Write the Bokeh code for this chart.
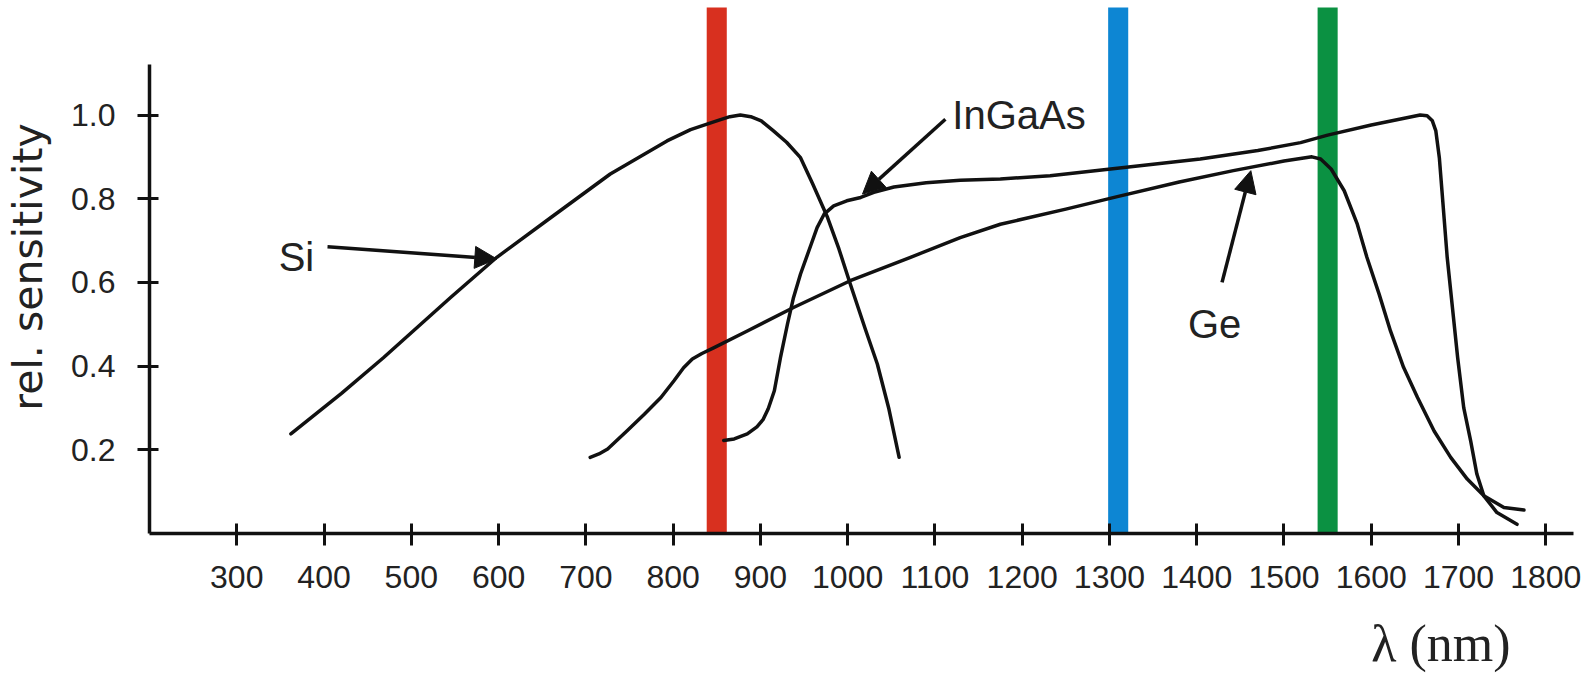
from bokeh.plotting import figure
from bokeh.models import (ColumnDataSource, FixedTicker, Arrow, NormalHead, Title, Range1d)
from bokeh.core.properties import value
from bokeh.embed import file_html
from bokeh.resources import INLINE

# ---- data ----
si_wl = [362, 420, 468, 545, 598, 660, 728, 793, 820, 850, 865, 877, 889, 901, 915, 930, 946, 960,
         977, 990, 1003, 1020, 1034, 1047, 1059]
si_val = [0.238, 0.335, 0.42, 0.564, 0.66, 0.755, 0.859, 0.938, 0.965, 0.986, 0.996, 1.0, 0.996, 0.986, 0.962,
          0.935, 0.898, 0.835, 0.755, 0.68, 0.596, 0.49, 0.405, 0.30, 0.182]

ingaas_wl = [858, 870, 885, 896, 903, 909, 916, 923, 931, 938, 946, 958, 965, 973, 984, 999, 1015, 1030, 1053,
             1090, 1129, 1175, 1232, 1309, 1404, 1470, 1519, 1550, 1600, 1656, 1664, 1670, 1674, 1678, 1681,
             1687, 1693, 1699, 1706, 1714, 1721, 1729, 1744, 1767]
ingaas_val = [0.222, 0.226, 0.238, 0.255, 0.272, 0.298, 0.341, 0.42, 0.50, 0.564, 0.62, 0.69, 0.731, 0.763,
              0.783, 0.795, 0.803, 0.815, 0.828, 0.838, 0.844, 0.847, 0.855, 0.873, 0.895, 0.915, 0.934, 0.952,
              0.976, 1.0, 0.998, 0.986, 0.962, 0.898, 0.819, 0.66, 0.54, 0.42, 0.30, 0.22, 0.142, 0.09,
              0.05, 0.022]

ge_wl = [705, 715, 725, 747, 767, 786, 801, 812, 822, 833, 847, 885, 938, 1003, 1072, 1129, 1175, 1250, 1309,
         1380, 1442, 1500, 1532, 1542, 1554, 1569, 1584, 1595, 1609, 1622, 1637, 1653, 1672, 1691, 1710,
         1729, 1752, 1775]
ge_val = [0.182, 0.19, 0.202, 0.245, 0.285, 0.325, 0.365, 0.396, 0.417, 0.430, 0.444, 0.484, 0.54, 0.604, 0.66,
          0.707, 0.739, 0.775, 0.805, 0.84, 0.867, 0.89, 0.90, 0.895, 0.871, 0.819, 0.739, 0.66, 0.572,
          0.484, 0.397, 0.325, 0.245, 0.182, 0.13, 0.09, 0.062, 0.056]

band_centers = [850, 1310, 1550]
band_colors = ["#d8301f", "#0d86d3", "#0b9142"]
band_width = 23
band_top = 1.257

x_ticks = [300, 400, 500, 600, 700, 800, 900, 1000, 1100, 1200, 1300, 1400, 1500, 1600, 1700, 1800]
y_ticks = [0.2, 0.4, 0.6, 0.8, 1.0]
y_tick_labels = ["0.2", "0.4", "0.6", "0.8", "1.0"]

curve_names = ["Si", "InGaAs", "Ge"]
name_x = [348, 1120, 1390]
name_y = [0.66, 1.0, 0.50]

arrow_tail_x = [404, 1112, 1429]
arrow_tail_y = [0.685, 0.99, 0.60]
arrow_tip_x = [598, 1017, 1462]
arrow_tip_y = [0.656, 0.811, 0.867]

# ---- figure ----
p = figure(width=1594, height=694, output_backend="svg", toolbar_location=None,
           x_range=Range1d(200, 1855.8), y_range=Range1d(0, 1.2736),
           min_border_left=149, min_border_bottom=161, min_border_top=0, min_border_right=0)
p.background_fill_color = "white"
p.border_fill_color = "white"
p.outline_line_color = None
p.grid.visible = False

# colored wavelength bands
bsrc = ColumnDataSource(dict(left=[c - band_width / 2 for c in band_centers],
                             right=[c + band_width / 2 for c in band_centers],
                             top=[band_top] * 3, bottom=[0] * 3, color=band_colors))
p.quad(left="left", right="right", top="top", bottom="bottom", color="color", source=bsrc, line_color=None)

# curves
for wl, val in [(si_wl, si_val), (ingaas_wl, ingaas_val), (ge_wl, ge_val)]:
    p.line(wl, val, line_color="#111111", line_width=3.5, line_join="round", line_cap="round")

# curve labels
tsrc = ColumnDataSource(dict(x=name_x, y=name_y, t=curve_names))
p.text(x="x", y="y", text="t", source=tsrc, text_font=value("Liberation Sans"),
       text_font_size="40px", text_color="#222222", text_align="left", text_baseline="alphabetic")

# arrows
for x0, y0, x1, y1 in zip(arrow_tail_x, arrow_tail_y, arrow_tip_x, arrow_tip_y):
    p.add_layout(Arrow(x_start=x0, y_start=y0, x_end=x1, y_end=y1, line_width=3.5, line_color="#111111",
                       end=NormalHead(size=22, fill_color="#111111", line_color="#111111", line_width=1)))

# axes
xa = p.xaxis[0]
xa.ticker = FixedTicker(ticks=x_ticks)
xa.bounds = (200, 1832)
xa.axis_line_width = 3.5
xa.axis_line_color = "#111111"
xa.major_tick_line_width = 3
xa.major_tick_line_color = "#111111"
xa.major_tick_in = 10
xa.major_tick_out = 12
xa.minor_tick_line_color = None
xa.major_label_text_font = "Liberation Sans"
xa.major_label_text_font_size = "32px"
xa.major_label_text_color = "#222222"
xa.major_label_standoff = 20

ya = p.yaxis[0]
ya.ticker = FixedTicker(ticks=y_ticks)
ya.major_label_overrides = {t: s for t, s in zip(y_ticks, y_tick_labels)}
ya.bounds = (0, 1.12)
ya.axis_line_width = 3.5
ya.axis_line_color = "#111111"
ya.major_tick_line_width = 3
ya.major_tick_line_color = "#111111"
ya.major_tick_in = 9
ya.major_tick_out = 12
ya.minor_tick_line_color = None
ya.major_label_text_font = "Liberation Sans"
ya.major_label_text_font_size = "32px"
ya.major_label_text_color = "#222222"
ya.major_label_standoff = 22
ya.axis_label = "rel. sensitivity"
ya.axis_label_text_font = "DejaVu Sans"
ya.axis_label_text_font_size = "41px"
ya.axis_label_text_font_style = "normal"
ya.axis_label_text_color = "#222222"
ya.axis_label_standoff = 16

xtitle = Title(text="λ (nm)", align="right", offset=84, standoff=44,
               text_font="Liberation Serif", text_font_size="52px", text_font_style="normal",
               text_color="#222222")
try:
    xtitle.text_line_height = 0.5
except Exception:
    pass
p.add_layout(xtitle, "below")

open("out.html", "w").write(file_html(p, INLINE))
